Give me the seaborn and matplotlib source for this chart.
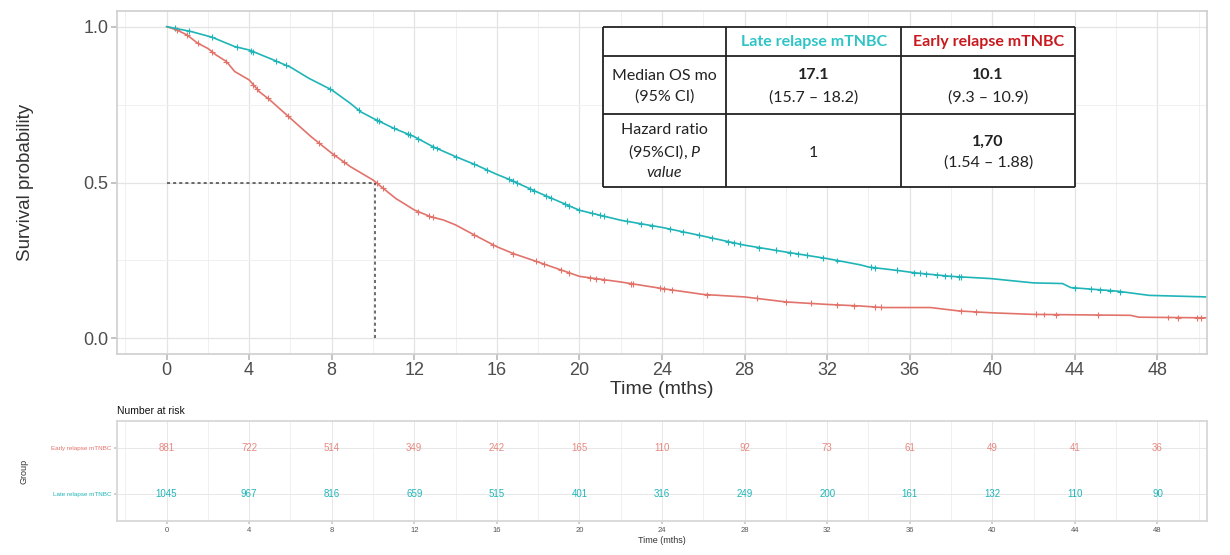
import numpy as np
import pandas as pd
import matplotlib
matplotlib.use("Agg")
import matplotlib.pyplot as plt
import seaborn as sns
from matplotlib.ticker import MultipleLocator

# groups and colours
groups = ["Early relapse mTNBC", "Late relapse mTNBC"]
colors = {"Early relapse mTNBC": "#E2736B", "Late relapse mTNBC": "#1FB5B8"}

# survival curves (months, probability)
late_t = [0, 1.2, 2.2, 3.3, 4, 5, 6, 6.9, 8, 8.9, 9.4, 10, 11, 12, 12.9, 14, 15, 16,
          16.6, 18, 20, 22, 24, 26, 28, 30, 32, 33.6, 34, 35.4, 36.3, 38, 39.9, 42,
          43.4, 43.8, 46, 47.6, 50.4]
late_s = [1.0, 0.984, 0.966, 0.936, 0.925, 0.898, 0.870, 0.834, 0.797, 0.754, 0.727,
          0.706, 0.674, 0.647, 0.615, 0.583, 0.556, 0.526, 0.510, 0.468, 0.411, 0.379,
          0.356, 0.328, 0.299, 0.277, 0.256, 0.236, 0.229, 0.218, 0.210, 0.199, 0.192,
          0.178, 0.176, 0.163, 0.152, 0.138, 0.133]

early_t = [0, 0.5, 1, 1.5, 2, 2.4, 2.9, 3.3, 4, 4.5, 5, 6, 7, 8, 8.9, 10, 10.5, 11.1,
           12, 12.8, 13.4, 14, 14.9, 16, 16.8, 18, 20, 22, 24, 26, 28, 30, 32, 33.6,
           34.7, 37, 38.4, 40, 42, 46.7, 47.1, 50.4]
early_s = [1.0, 0.989, 0.973, 0.947, 0.930, 0.909, 0.888, 0.856, 0.829, 0.791, 0.765,
           0.706, 0.647, 0.594, 0.551, 0.508, 0.481, 0.449, 0.412, 0.390, 0.380, 0.364,
           0.332, 0.294, 0.272, 0.245, 0.199, 0.181, 0.160, 0.141, 0.133, 0.117, 0.109,
           0.104, 0.099, 0.099, 0.088, 0.082, 0.077, 0.074, 0.068, 0.066]

# censoring times
late_cens = [0.4, 1.1, 2.2, 3.4, 4.1, 4.2, 5.3, 5.8, 7.9, 9.3, 10.2, 10.3, 11.0, 11.7,
             11.8, 12.2, 12.9, 13.1, 14.0, 14.9, 15.5, 16.6, 16.8, 17.0, 17.6, 17.8,
             18.4, 18.6, 19.3, 19.5, 20.0, 20.6, 21.0, 21.2, 22.3, 23.0, 23.5, 24.4,
             25.0, 25.8, 26.4, 27.2, 27.5, 27.8, 28.7, 29.5, 30.2, 30.6, 31.0, 31.8,
             32.5, 34.1, 34.3, 35.4, 36.2, 36.5, 36.8, 37.3, 37.7, 38.0, 38.4, 38.5,
             44.0, 44.8, 45.2, 45.7, 46.2]
early_cens = [0.5, 1.0, 1.5, 2.2, 2.9, 4.2, 4.4, 4.9, 5.9, 7.4, 8.1, 8.6, 10.2, 10.5,
              12.2, 12.7, 12.9, 14.9, 15.8, 16.8, 17.9, 18.3, 19.1, 19.5, 20.5, 20.8,
              21.2, 22.5, 22.6, 23.9, 24.1, 24.5, 26.2, 28.6, 30.0, 31.2, 32.5, 33.3,
              34.3, 34.6, 38.5, 39.2, 42.1, 42.5, 43.1, 45.1, 48.5, 49.0, 49.9, 50.1]

# number at risk
risk_times = list(range(0, 49, 4))
early_risk = [881, 722, 514, 349, 242, 165, 110, 92, 73, 61, 49, 41, 36]
late_risk = [1045, 967, 816, 659, 515, 401, 316, 249, 200, 161, 132, 110, 90]

# summary table
early_median = 10.1
median_txt = {"Late relapse mTNBC": ("17.1", "(15.7 \u2013 18.2)"),
              "Early relapse mTNBC": ("10.1", "(9.3 \u2013 10.9)")}
hr_late = "1"
hr_early = ("1,70", "(1.54 \u2013 1.88)")

curves = pd.concat([
    pd.DataFrame({"time": early_t, "surv": early_s, "group": groups[0]}),
    pd.DataFrame({"time": late_t, "surv": late_s, "group": groups[1]}),
])
cens = pd.concat([
    pd.DataFrame({"time": early_cens, "surv": np.interp(early_cens, early_t, early_s),
                  "group": groups[0]}),
    pd.DataFrame({"time": late_cens, "surv": np.interp(late_cens, late_t, late_s),
                  "group": groups[1]}),
])

sns.set_theme(style="white")
plt.rcParams['font.family'] = ['Liberation Sans', 'DejaVu Sans']
plt.rcParams['mathtext.fontset'] = 'custom'
plt.rcParams['mathtext.rm'] = 'Lato'
plt.rcParams['mathtext.it'] = 'Lato:italic'

W, H = 1230, 555
fig = plt.figure(figsize=(W / 100, H / 100), dpi=100)

# ---- main survival plot
ax = fig.add_axes([117 / W, 1 - 354 / H, 1090 / W, 343 / H])
sns.lineplot(data=curves, x="time", y="surv", hue="group", hue_order=groups,
             palette=colors, estimator=None, linewidth=1.2, legend=False, ax=ax)
sns.scatterplot(data=cens, x="time", y="surv", hue="group", hue_order=groups,
                palette=colors, marker="+", s=18, linewidth=0.8, legend=False, ax=ax)
ax.plot([0, early_median], [0.5, 0.5], ls=(0, (2, 2)), color="#444444", lw=1.1)
ax.plot([early_median, early_median], [0, 0.5], ls=(0, (2, 2)), color="#444444", lw=1.1)

ax.set_xlim(-2.4, 50.4)
ax.set_ylim(-0.05, 1.05)
ax.set_xticks(risk_times)
ax.set_yticks([0, 0.5, 1.0])
ax.set_yticklabels(["0.0", "0.5", "1.0"])
ax.xaxis.set_minor_locator(MultipleLocator(2))
ax.yaxis.set_minor_locator(MultipleLocator(0.25))
ax.grid(which="major", color="#E4E4E4", lw=0.9)
ax.grid(which="minor", color="#F0F0F0", lw=0.7)
ax.set_axisbelow(True)
ax.tick_params(which="major", length=4, color="#BBBBBB", labelsize=13,
               labelcolor="#4D4D4D", pad=2, bottom=True, left=True)
ax.tick_params(which="minor", length=0)
for sp in ax.spines.values():
    sp.set_color("#D0D0D0")
ax.set_xlabel("Time (mths)", fontsize=14, color="#333333", labelpad=1)
ax.set_ylabel("Survival probability", fontsize=13.5, color="#333333", labelpad=36)

# ---- summary table drawn over the plot
tx0, ty0, tx1, ty1 = 603, 27.3, 1075, 186.7
tab = fig.add_axes([tx0 / W, 1 - ty1 / H, (tx1 - tx0) / W, (ty1 - ty0) / H], zorder=5)
tab.set_facecolor("white")
tab.set_xticks([])
tab.set_yticks([])
for sp in tab.spines.values():
    sp.set_visible(False)
tab.set_xlim(0, tx1 - tx0)
tab.set_ylim(ty1 - ty0, 0)
col_edges = [0, 123, 298.4, tx1 - tx0]
row_edges = [0, 28.7, 87, ty1 - ty0]
tab.hlines(row_edges, 0, col_edges[-1], color="#222222", lw=1.3, clip_on=False)
tab.vlines(col_edges, 0, row_edges[-1], color="#222222", lw=1.3, clip_on=False)
c1 = (col_edges[0] + col_edges[1]) / 2
c2 = (col_edges[1] + col_edges[2]) / 2
c3 = (col_edges[2] + col_edges[3]) / 2
tf = dict(family=["Lato", "DejaVu Sans"], fontsize=11.5, ha="center", va="center",
          color="#222222")
tab.text(c2, 14.5, groups[1], fontweight="bold", **{**tf, "color": "#2EC4C6"})
tab.text(c3, 14.5, groups[0], fontweight="bold", **{**tf, "color": "#C8191E"})
tab.text(c1, 48.5, "Median OS mo", **tf)
tab.text(c1, 69.5, "(95% CI)", **tf)
tab.text(c2, 47.5, median_txt[groups[1]][0], fontweight="bold", **tf)
tab.text(c2, 70, median_txt[groups[1]][1], **tf)
tab.text(c3, 47.5, median_txt[groups[0]][0], fontweight="bold", **tf)
tab.text(c3, 70, median_txt[groups[0]][1], **tf)
tab.text(c1, 102.5, "Hazard ratio", **tf)
tab.text(c1, 124.5, r"(95%CI), $\mathit{P}$", **tf)
tab.text(c1, 146, "value", style="italic", **tf)
tab.text(c2, 125.5, hr_late, **tf)
tab.text(c3, 114, hr_early[0], fontweight="bold", **tf)
tab.text(c3, 135.5, hr_early[1], **tf)

# ---- number at risk table
rk = fig.add_axes([117 / W, 1 - 521 / H, 1090 / W, 100 / H])
rk.set_xlim(-2.4, 50.4)
rk.set_ylim(-0.6, 1.6)
for t, e, l in zip(risk_times, early_risk, late_risk):
    rk.text(t, 1, str(e), color=colors[groups[0]], fontsize=7, ha="center", va="center", alpha=0.85)
    rk.text(t, 0, str(l), color=colors[groups[1]], fontsize=7, ha="center", va="center")
rk.set_xticks(risk_times)
rk.set_yticks([1, 0])
rk.set_yticklabels(groups)
for lab, g in zip(rk.get_yticklabels(), groups):
    lab.set_color(colors[g])
rk.xaxis.set_minor_locator(MultipleLocator(2))
rk.grid(which="major", color="#E8E8E8", lw=0.7)
rk.grid(which="minor", color="#EEEEEE", lw=0.6)
rk.set_axisbelow(True)
rk.tick_params(axis="x", which="major", length=2, color="#CCCCCC", labelsize=5.5,
               labelcolor="#555555", pad=2, bottom=True)
rk.tick_params(axis="y", which="major", length=2, color="#CCCCCC", labelsize=4.5, pad=2, left=True)
rk.tick_params(which="minor", length=0)
for sp in rk.spines.values():
    sp.set_color("#D6D6D6")
rk.set_xlabel("Time (mths)", fontsize=6.5, color="#333333", labelpad=2)
rk.set_ylabel("Group", fontsize=6.5, color="#333333", labelpad=16)
fig.text(117 / W, 1 - 411 / H, "Number at risk", fontsize=7.5, color="#111111",
         ha="left", va="center")

fig.savefig("out.png", dpi=100, facecolor="white")
